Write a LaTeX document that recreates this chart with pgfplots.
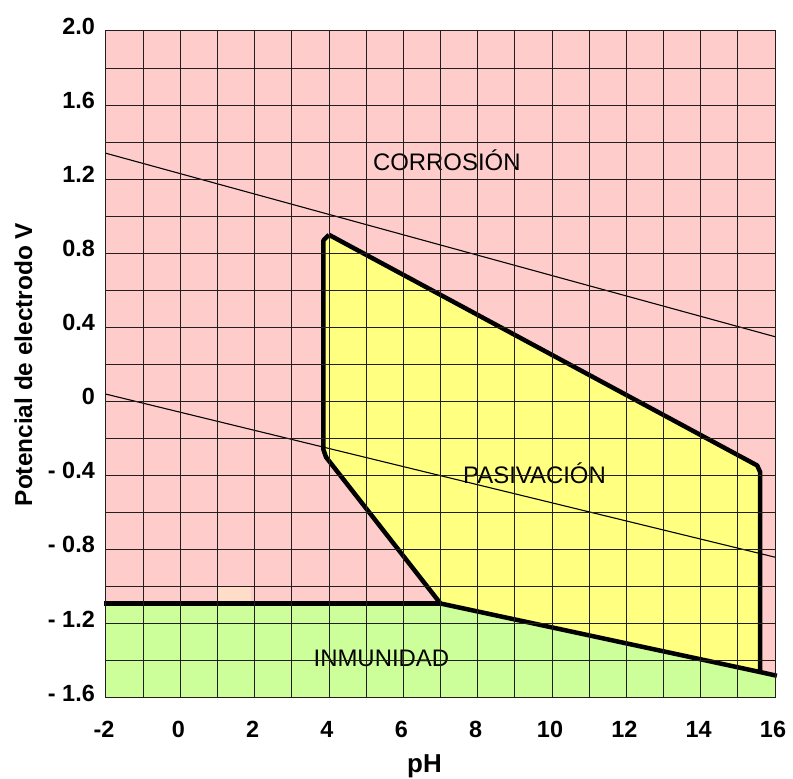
\documentclass[border=0pt]{standalone}
\usepackage{fontspec}
\setmainfont{Liberation Sans}
\usepackage{pgfplots}
\pgfplotsset{compat=1.18}
\definecolor{pinkc}{RGB}{255,204,204}
\definecolor{yellc}{RGB}{255,255,128}
\definecolor{greenc}{RGB}{204,255,153}
\definecolor{peach}{RGB}{255,221,200}
\definecolor{gridc}{RGB}{35,30,30}
\begin{document}
\begin{tikzpicture}
\begin{axis}[
 at={(0,0)}, anchor=south west,
 scale only axis, width=669bp, height=667bp,
 xmin=-2, xmax=16, ymin=-1.6, ymax=2.0,
 xtick={-2,0,2,4,6,8,10,12,14,16},
 xticklabels={-2,0,2,4,6,8,10,12,14,16},
 ytick={-1.6,-1.2,-0.8,-0.4,0,0.4,0.8,1.2,1.6,2.0},
 yticklabels={- 1.6,- 1.2,- 0.8,- 0.4,0,0.4,0.8,1.2,1.6,2.0},
 minor xtick={-1,1,3,5,7,9,11,13,15},
 minor ytick={-1.4,-1.0,-0.6,-0.2,0.2,0.6,1.0,1.4,1.8},
 grid=both,
 major grid style={draw=gridc, line width=1bp},
 minor grid style={draw=gridc, line width=1bp},
 major tick length=0pt, minor tick length=0pt,
 axis line style={draw=gridc, line width=1bp},
 axis on top,
 axis background/.style={fill=pinkc},
 clip=false,
 xticklabel style={font=\fontsize{23.5}{23.5}\selectfont\bfseries, anchor=north, inner sep=0pt, yshift=-23bp, xshift=-2bp},
 yticklabel style={font=\fontsize{23.5}{23.5}\selectfont\bfseries, anchor=east, inner sep=0pt, xshift=-11bp, yshift=5bp},
 xlabel={pH},
 ylabel={Potencial de electrodo V},
 xlabel style={font=\fontsize{26}{26}\selectfont\bfseries, at={(axis description cs:0.476,-0.1124)}, anchor=base, inner sep=0pt},
 ylabel style={font=\fontsize{24.5}{24.5}\selectfont\bfseries, at={(axis description cs:-0.1233,0.5)}, anchor=center, inner sep=0pt},
]
% green region (inmunidad)
\addplot[draw=none, fill=greenc] coordinates {(-2,-1.6) (-2,-1.09) (7,-1.09) (16,-1.48) (16,-1.6) (-2,-1.6)};
% small lighter patch
\addplot[draw=none, fill=peach] coordinates {(1,-1.09) (1,-1.0) (1.9,-1.0) (1.9,-1.09) (1,-1.09)};
% yellow region (pasivacion)
\addplot[draw=none, fill=yellc] coordinates {(4.0,0.90) (3.85,0.87) (3.85,-0.26) (3.92,-0.30) (7,-1.09) (15.6,-1.46) (15.6,-0.38) (15.52,-0.345) (4.0,0.90)};
% thin lines
\addplot[black, line width=1.1bp] coordinates {(-2,1.34) (16,0.35)};
\addplot[black, line width=1.1bp] coordinates {(-2,0.04) (16,-0.84)};
% thick outlines
\addplot[black, line width=4.5bp, line join=round] coordinates {(4.0,0.90) (3.85,0.87) (3.85,-0.26) (3.92,-0.30) (7,-1.09) (15.6,-1.46) (15.6,-0.38) (15.52,-0.345) (4.0,0.90)};
\addplot[black, line width=4.5bp, line join=round] coordinates {(-2.05,-1.09) (7,-1.09)};
\addplot[black, line width=4.5bp, line join=round] coordinates {(15.6,-1.46) (16.05,-1.48)};
% labels
\node[font=\fontsize{24}{24}\selectfont] at (axis cs:7.17,1.30) {CORROSIÓN};
\node[font=\fontsize{24}{24}\selectfont] at (axis cs:9.53,-0.385) {PASIVACIÓN};
\node[font=\fontsize{24}{24}\selectfont] at (axis cs:5.41,-1.384) {INMUNIDAD};
\end{axis}
\path[use as bounding box] (-106bp,-80bp) rectangle (687bp,698bp);
\end{tikzpicture}
\end{document}
